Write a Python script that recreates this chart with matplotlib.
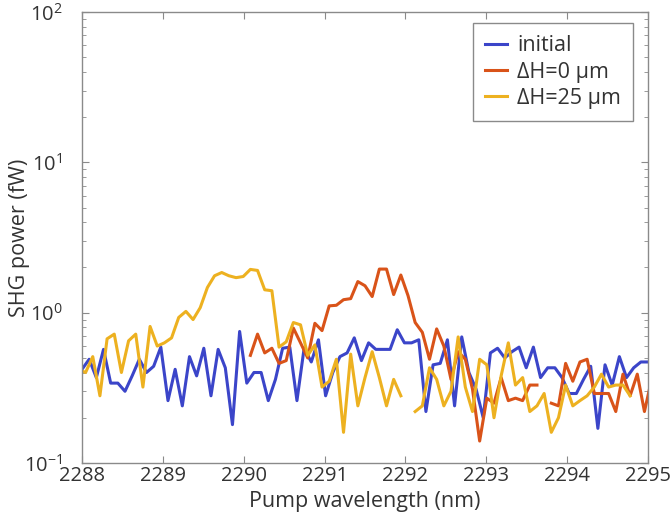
import numpy as np
import matplotlib
matplotlib.use("Agg")
import matplotlib.pyplot as plt
from matplotlib.ticker import LogLocator

plt.rcParams['font.family'] = ['Open Sans', 'DejaVu Sans']
plt.rcParams['mathtext.default'] = 'regular'

# wavelength grid of the scan (nm); the two ΔH scans sit half a step lower
wl = np.linspace(2288, 2295, 80)
step = wl[1] - wl[0]
wl_dh = np.append(wl, wl[-1] + step) - step / 2

# SHG power (fW)
initial = [0.42, 0.49, 0.37, 0.57, 0.34, 0.34, 0.30, 0.38, 0.49, 0.40,
           0.44, 0.59, 0.26, 0.42, 0.24, 0.51, 0.38, 0.58, 0.28, 0.57,
           0.43, 0.18, 0.75, 0.34, 0.40, 0.40, 0.26, 0.36, 0.58, 0.59,
           0.26, 0.58, 0.47, 0.66, 0.28, 0.40, 0.51, 0.54, 0.68, 0.48,
           0.63, 0.57, 0.57, 0.57, 0.77, 0.63, 0.63, 0.66, 0.22, 0.45,
           0.46, 0.66, 0.24, 0.69, 0.40, 0.31, 0.20, 0.54, 0.58, 0.50,
           0.55, 0.59, 0.43, 0.59, 0.37, 0.43, 0.43, 0.37, 0.29, 0.29,
           0.36, 0.44, 0.17, 0.45, 0.33, 0.51, 0.37, 0.43, 0.47, 0.47]

nan = np.nan
dh0 = [nan] * 24 + [
    0.52, 0.72, 0.54, 0.58, 0.46, 0.48, 0.79, 0.63, 0.50, 0.85,
    0.76, 1.11, 1.12, 1.22, 1.24, 1.61, 1.51, 1.28, 1.95, 1.95,
    1.32, 1.78, 1.30, 0.86, 0.74, 0.49, 0.78, 0.60, 0.36, 0.55,
    0.49, 0.31, 0.14, 0.27, 0.25, 0.37, 0.26, 0.27, 0.26, 0.33,
    0.33, nan, 0.25, 0.24, 0.46, 0.35, 0.47, 0.49, 0.29, 0.29,
    0.29, 0.22, 0.39, 0.28, 0.39, 0.22, 0.36]

dh25 = [0.42, 0.40, 0.51, 0.28, 0.67, 0.72, 0.40, 0.65, 0.72, 0.32,
        0.81, 0.60, 0.63, 0.68, 0.93, 1.02, 0.90, 1.08, 1.47, 1.76,
        1.85, 1.76, 1.71, 1.74, 1.94, 1.91, 1.42, 1.40, 0.59, 0.64,
        0.86, 0.83, 0.52, 0.61, 0.32, 0.35, 0.49, 0.16, 0.53, 0.24,
        0.37, 0.55, 0.37, 0.24, 0.36, 0.28, nan, 0.22, 0.24, 0.43,
        0.36, 0.24, 0.30, 0.69, 0.32, 0.22, 0.49, 0.45, 0.20, 0.38,
        0.63, 0.33, 0.37, 0.22, 0.24, 0.29, 0.16, 0.20, 0.33, 0.24,
        0.26, 0.28, 0.32, 0.39, 0.32, 0.33, 0.33, 0.28, nan, nan, nan]

labels = ['initial', 'ΔH=0 µm', 'ΔH=25 µm']
colors = ['#3b45c9', '#d95319', '#edb120']

fig = plt.figure(figsize=(6.7, 5.22), dpi=100)
ax = fig.add_axes([0.1224, 0.113, 0.8448, 0.864])

ax.plot(wl, initial, color=colors[0], lw=2.2, label=labels[0])
ax.plot(wl_dh, dh0, color=colors[1], lw=2.2, label=labels[1])
ax.plot(wl_dh, dh25, color=colors[2], lw=2.2, label=labels[2])

ax.set_yscale('log')
ax.set_xlim(2288, 2295)
ax.set_ylim(0.1, 100)
ax.set_xticks(np.arange(2288, 2296, 1))
ax.yaxis.set_major_locator(LogLocator(base=10, numticks=10))
ax.yaxis.set_minor_locator(LogLocator(base=10, subs=np.arange(2, 10), numticks=10))

ax.set_xlabel('Pump wavelength (nm)', fontsize=15.5, color='#333333', labelpad=4)
ax.set_ylabel('SHG power (fW)', fontsize=15.5, color='#333333', labelpad=-4)

for s in ax.spines.values():
    s.set_color('#8a8a8a')
    s.set_linewidth(1.0)
ax.tick_params(which='both', direction='in', top=True, right=True,
               color='#8a8a8a', labelcolor='#333333', labelsize=14.5)
ax.tick_params(which='major', length=5)
ax.tick_params(which='minor', length=3)
ax.tick_params(axis='x', pad=2)
ax.tick_params(axis='y', pad=14)

leg = ax.legend(loc='upper right', bbox_to_anchor=(0.973, 0.975), borderaxespad=0,
                fontsize=15.5, fancybox=False, framealpha=1, edgecolor='#8a8a8a',
                handlelength=1.05, handletextpad=0.45, labelspacing=0.25,
                borderpad=0.55)
for t in leg.get_texts():
    t.set_color('#333333')

fig.savefig('out.png', dpi=100)
